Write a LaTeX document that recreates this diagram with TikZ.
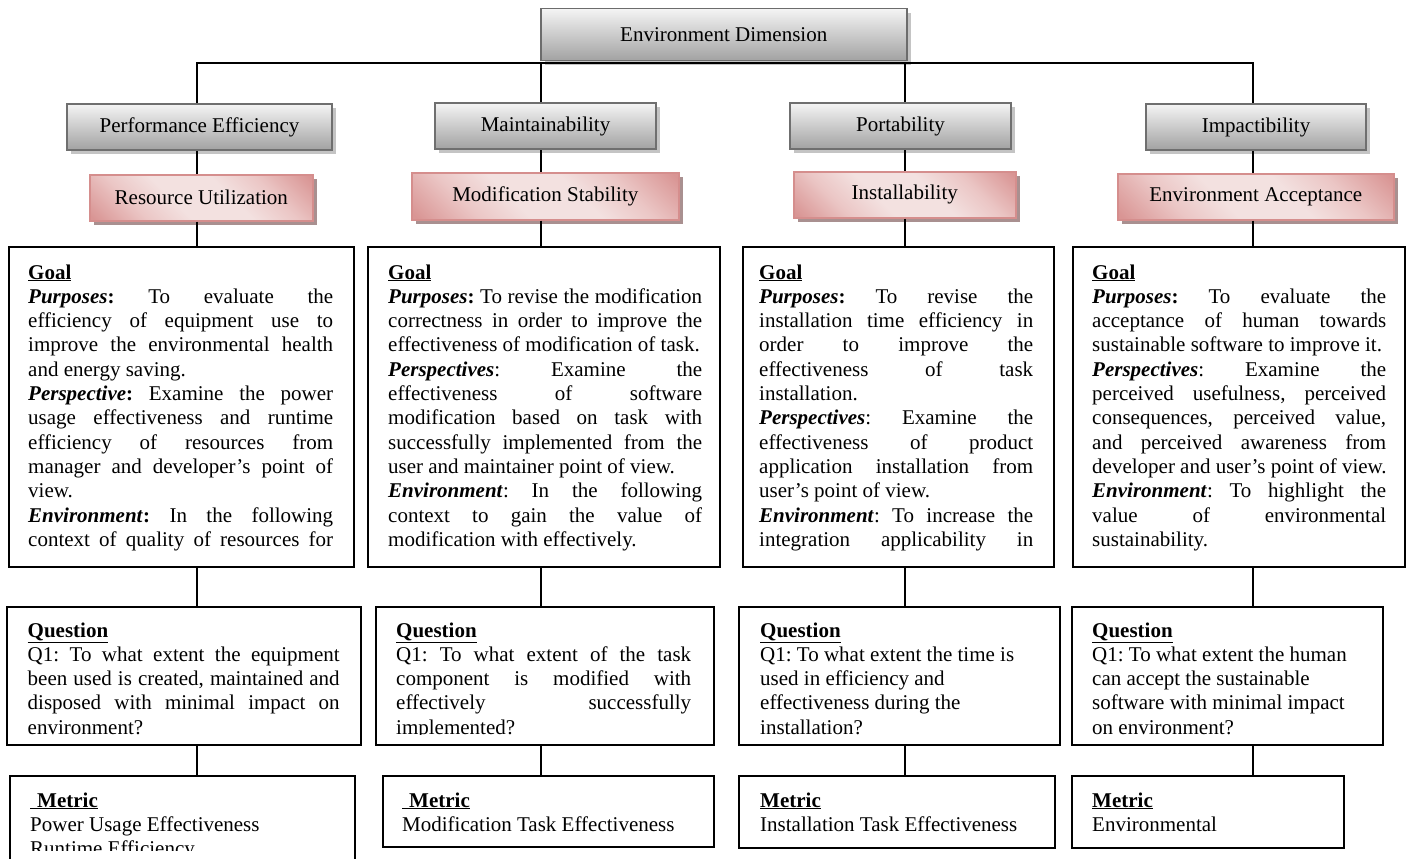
\documentclass[tikz,border=0pt]{standalone}
\usepackage{fontspec}
\setmainfont{Liberation Serif}
\usetikzlibrary{shadows}

\definecolor{graytop}{HTML}{F4F4F4}
\definecolor{graybot}{HTML}{A2A2A2}
\definecolor{grayedge}{HTML}{6F6F6F}
\definecolor{grayshadow}{HTML}{C4C4C4}
\definecolor{pinklight}{HTML}{F3E1E0}
\definecolor{pinkmid}{HTML}{EBC6C5}
\definecolor{pinkdark}{HTML}{D99594}
\definecolor{pinkedge}{HTML}{D58E8D}
\definecolor{pinkshadow}{HTML}{A99090}

\pgfdeclarehorizontalshading{pinkband}{100bp}{color(0bp)=(pinkdark); color(16bp)=(pinkdark); color(30bp)=(pinkmid); color(42bp)=(pinklight); color(58bp)=(pinklight); color(70bp)=(pinkmid); color(84bp)=(pinkdark); color(100bp)=(pinkdark)}

% one justified line, one flush-left line of a box text (normal word spaces)
\newcommand{\jl}[1]{\makebox[\hsize][s]{\spaceskip=0pt\xspaceskip=0pt\relax#1}}
\newcommand{\fl}[1]{\makebox[\hsize][l]{\spaceskip=0pt\xspaceskip=0pt\relax#1}}
\newcommand{\hd}[1]{\underline{\textbf{#1}}}

\tikzset{
  basefont/.style={font=\fontsize{21}{24.3}\selectfont\frenchspacing},
  graybox/.style={basefont, draw=grayedge, line width=2pt, top color=graytop, bottom color=graybot,
    general shadow={fill=grayshadow, shadow xshift=4pt, shadow yshift=-4pt},
    anchor=north west, inner sep=0pt},
  pinkbox/.style={basefont, draw=pinkedge, line width=1.6pt, shading=pinkband, shading angle=45,
    general shadow={fill=pinkshadow, shadow xshift=4pt, shadow yshift=-4pt},
    anchor=north west, inner sep=0pt},
  infobox/.style={draw=black, line width=1.8pt, fill=white, anchor=north west, inner sep=0pt},
  boxtext/.style={basefont, inner sep=0pt, align=left, anchor=base west},
  conn/.style={draw=black, line width=1.6pt},
}

\begin{document}
\begin{tikzpicture}[x=1pt, y=-1pt]
\clip (0,0) rectangle (1411,859);
\fill[white] (0,0) rectangle (1411,859);

% columns of the four branches and the bus line
\coordinate (c1) at (197,0);
\coordinate (c2) at (541,0);
\coordinate (c3) at (905,0);
\coordinate (c4) at (1253,0);
\coordinate (bus) at (0,63);

% header boxes
\node[graybox, draw=gray!85!black, line width=1.5pt, minimum width=366pt, minimum height=52pt] (top) at (540,8) {Environment Dimension};
\node[graybox, minimum width=265pt, minimum height=46pt] (pe) at (66,103) {Performance Efficiency};
\node[graybox, minimum width=221pt, minimum height=46pt] (mt) at (434,102) {Maintainability};
\node[graybox, minimum width=221pt, minimum height=46pt] (pt) at (789,102) {Portability};
\node[graybox, minimum width=220pt, minimum height=46pt] (im) at (1145,103) {Impactibility};

\node[pinkbox, minimum width=223pt, minimum height=46pt] (ru) at (89,174) {Resource Utilization};
\node[pinkbox, minimum width=267pt, minimum height=47pt] (ms) at (411,172) {Modification Stability};
\node[pinkbox, minimum width=222pt, minimum height=46pt] (ins) at (793,171) {Installability};
\node[pinkbox, minimum width=276pt, minimum height=46pt] (ea) at (1117,173) {Environment Acceptance};

% goal, question and metric frames
\node[infobox, minimum width=345pt, minimum height=320pt] (g1) at (8,246) {};
\node[infobox, minimum width=352pt, minimum height=320pt] (g2) at (367,246) {};
\node[infobox, minimum width=311pt, minimum height=320pt] (g3) at (742,246) {};
\node[infobox, minimum width=332pt, minimum height=320pt] (g4) at (1072,246) {};

\node[infobox, minimum width=354pt, minimum height=138pt] (q1) at (6,606) {};
\node[infobox, minimum width=338pt, minimum height=138pt] (q2) at (375,606) {};
\node[infobox, minimum width=321pt, minimum height=138pt] (q3) at (738,606) {};
\node[infobox, minimum width=311pt, minimum height=138pt] (q4) at (1071,606) {};

\node[infobox, minimum width=345pt, minimum height=100pt] (m1) at (9,775) {};
\node[infobox, minimum width=331pt, minimum height=71pt] (m2) at (382,775) {};
\node[infobox, minimum width=316pt, minimum height=72pt] (m3) at (738,775) {};
\node[infobox, minimum width=272pt, minimum height=72pt] (m4) at (1071,775) {};

% connectors
\draw[conn] (pe.north -| c1) |- (bus -| c4) -- (im.north -| c4);
\draw[conn] (bus -| c2) -- (mt.north -| c2);
\draw[conn] (bus -| c3) -- (pt.north -| c3);
\foreach \h/\p/\g/\q/\m/\c in {pe/ru/g1/q1/m1/c1, mt/ms/g2/q2/m2/c2, pt/ins/g3/q3/m3/c3, im/ea/g4/q4/m4/c4}{
  \draw[conn] (\h.south -| \c) -- (\p.north -| \c);
  \draw[conn] (\p.south -| \c) -- (\g.north -| \c);
  \draw[conn] (\g.south -| \c) -- (\q.north -| \c);
  \draw[conn] (\q.south -| \c) -- (\m.north -| \c);
}

% goal texts
\begin{scope}
\clip (g1.north west) rectangle ([yshift=11pt]g1.south east);
\node[boxtext, text width=305pt] (g1t) at (28,279) {\hd{Goal}\\
\jl{\textbf{\textit{Purposes}:} To evaluate the}\\
\jl{efficiency of equipment use to}\\
\jl{improve the environmental health}\\
\fl{and energy saving.}\\
\jl{\textbf{\textit{Perspective}:} Examine the power}\\
\jl{usage effectiveness and runtime}\\
\jl{efficiency of resources from}\\
\jl{manager and developer’s point of}\\
\fl{view.}\\
\jl{\textbf{\textit{Environment}:} In the following}\\
\jl{context of quality of resources for}};
\end{scope}

\begin{scope}
\clip (g2.north west) rectangle ([yshift=11pt]g2.south east);
\node[boxtext, text width=314pt] (g2t) at (388,279) {\hd{Goal}\\
\jl{\textbf{\textit{Purposes}:} To revise the modification}\\
\jl{correctness in order to improve the}\\
\fl{effectiveness of modification of task.}\\
\jl{\textbf{\textit{Perspectives}}: Examine the}\\
\jl{effectiveness of software}\\
\jl{modification based on task with}\\
\jl{successfully implemented from the}\\
\fl{user and maintainer point of view.}\\
\jl{\textbf{\textit{Environment}}: In the following}\\
\jl{context to gain the value of}\\
\fl{modification with effectively.}};
\end{scope}

\begin{scope}
\clip (g3.north west) rectangle ([yshift=11pt]g3.south east);
\node[boxtext, text width=274pt] (g3t) at (759,279) {\hd{Goal}\\
\jl{\textbf{\textit{Purposes}:} To revise the}\\
\jl{installation time efficiency in}\\
\jl{order to improve the}\\
\jl{effectiveness of task}\\
\fl{installation.}\\
\jl{\textbf{\textit{Perspectives}}: Examine the}\\
\jl{effectiveness of product}\\
\jl{application installation from}\\
\fl{user’s point of view.}\\
\jl{\textbf{\textit{Environment}}: To increase the}\\
\jl{integration applicability in}};
\end{scope}

\begin{scope}
\clip (g4.north west) rectangle ([yshift=11pt]g4.south east);
\node[boxtext, text width=294pt] (g4t) at (1092,279) {\hd{Goal}\\
\jl{\textbf{\textit{Purposes}:} To evaluate the}\\
\jl{acceptance of human towards}\\
\fl{sustainable software to improve it.}\\
\jl{\textbf{\textit{Perspectives}}: Examine the}\\
\jl{perceived usefulness, perceived}\\
\jl{consequences, perceived value,}\\
\jl{and perceived awareness from}\\
\fl{developer and user’s point of view.}\\
\jl{\textbf{\textit{Environment}}: To highlight the}\\
\jl{value of environmental}\\
\fl{sustainability.}};
\end{scope}

% question texts
\begin{scope}
\clip (q1.north west) rectangle ([yshift=11pt]q1.south east);
\node[boxtext, text width=312pt] (q1t) at (27.5,637) {\hd{Question}\\
\jl{Q1: To what extent the equipment}\\
\jl{been used is created, maintained and}\\
\jl{disposed with minimal impact on}\\
\fl{environment?}};
\end{scope}

\begin{scope}
\clip (q2.north west) rectangle ([yshift=11pt]q2.south east);
\node[boxtext, text width=295pt] (q2t) at (396,637) {\hd{Question}\\
\jl{Q1: To what extent of the task}\\
\jl{component is modified with}\\
\jl{effectively successfully}\\
\fl{implemented?}};
\end{scope}

\begin{scope}
\clip (q3.north west) rectangle ([yshift=11pt]q3.south east);
\node[boxtext, text width=290pt] (q3t) at (760,637) {\hd{Question}\\
\fl{Q1: To what extent the time is}\\
\fl{used in efficiency and}\\
\fl{effectiveness during the}\\
\fl{installation?}};
\end{scope}

\begin{scope}
\clip (q4.north west) rectangle ([yshift=11pt]q4.south east);
\node[boxtext, text width=285pt] (q4t) at (1092,637) {\hd{Question}\\
\fl{Q1: To what extent the human}\\
\fl{can accept the sustainable}\\
\fl{software with minimal impact}\\
\fl{on environment?}};
\end{scope}

% metric texts
\begin{scope}
\clip (m1.north west) rectangle (m1.east |- 0,850);
\node[boxtext, text width=300pt] (m1t) at (30,807) {\hd{\ Metric}\\
\fl{Power Usage Effectiveness}\\
\fl{Runtime Efficiency}};
\end{scope}
\node[boxtext, text width=300pt] (m2t) at (402,807) {\hd{\ Metric}\\
\fl{Modification Task Effectiveness}};
\node[boxtext, text width=290pt] (m3t) at (760,807) {\hd{Metric}\\
\fl{Installation Task Effectiveness}};
\node[boxtext, text width=250pt] (m4t) at (1092,807) {\hd{Metric}\\
\fl{Environmental}};
\end{tikzpicture}
\end{document}
